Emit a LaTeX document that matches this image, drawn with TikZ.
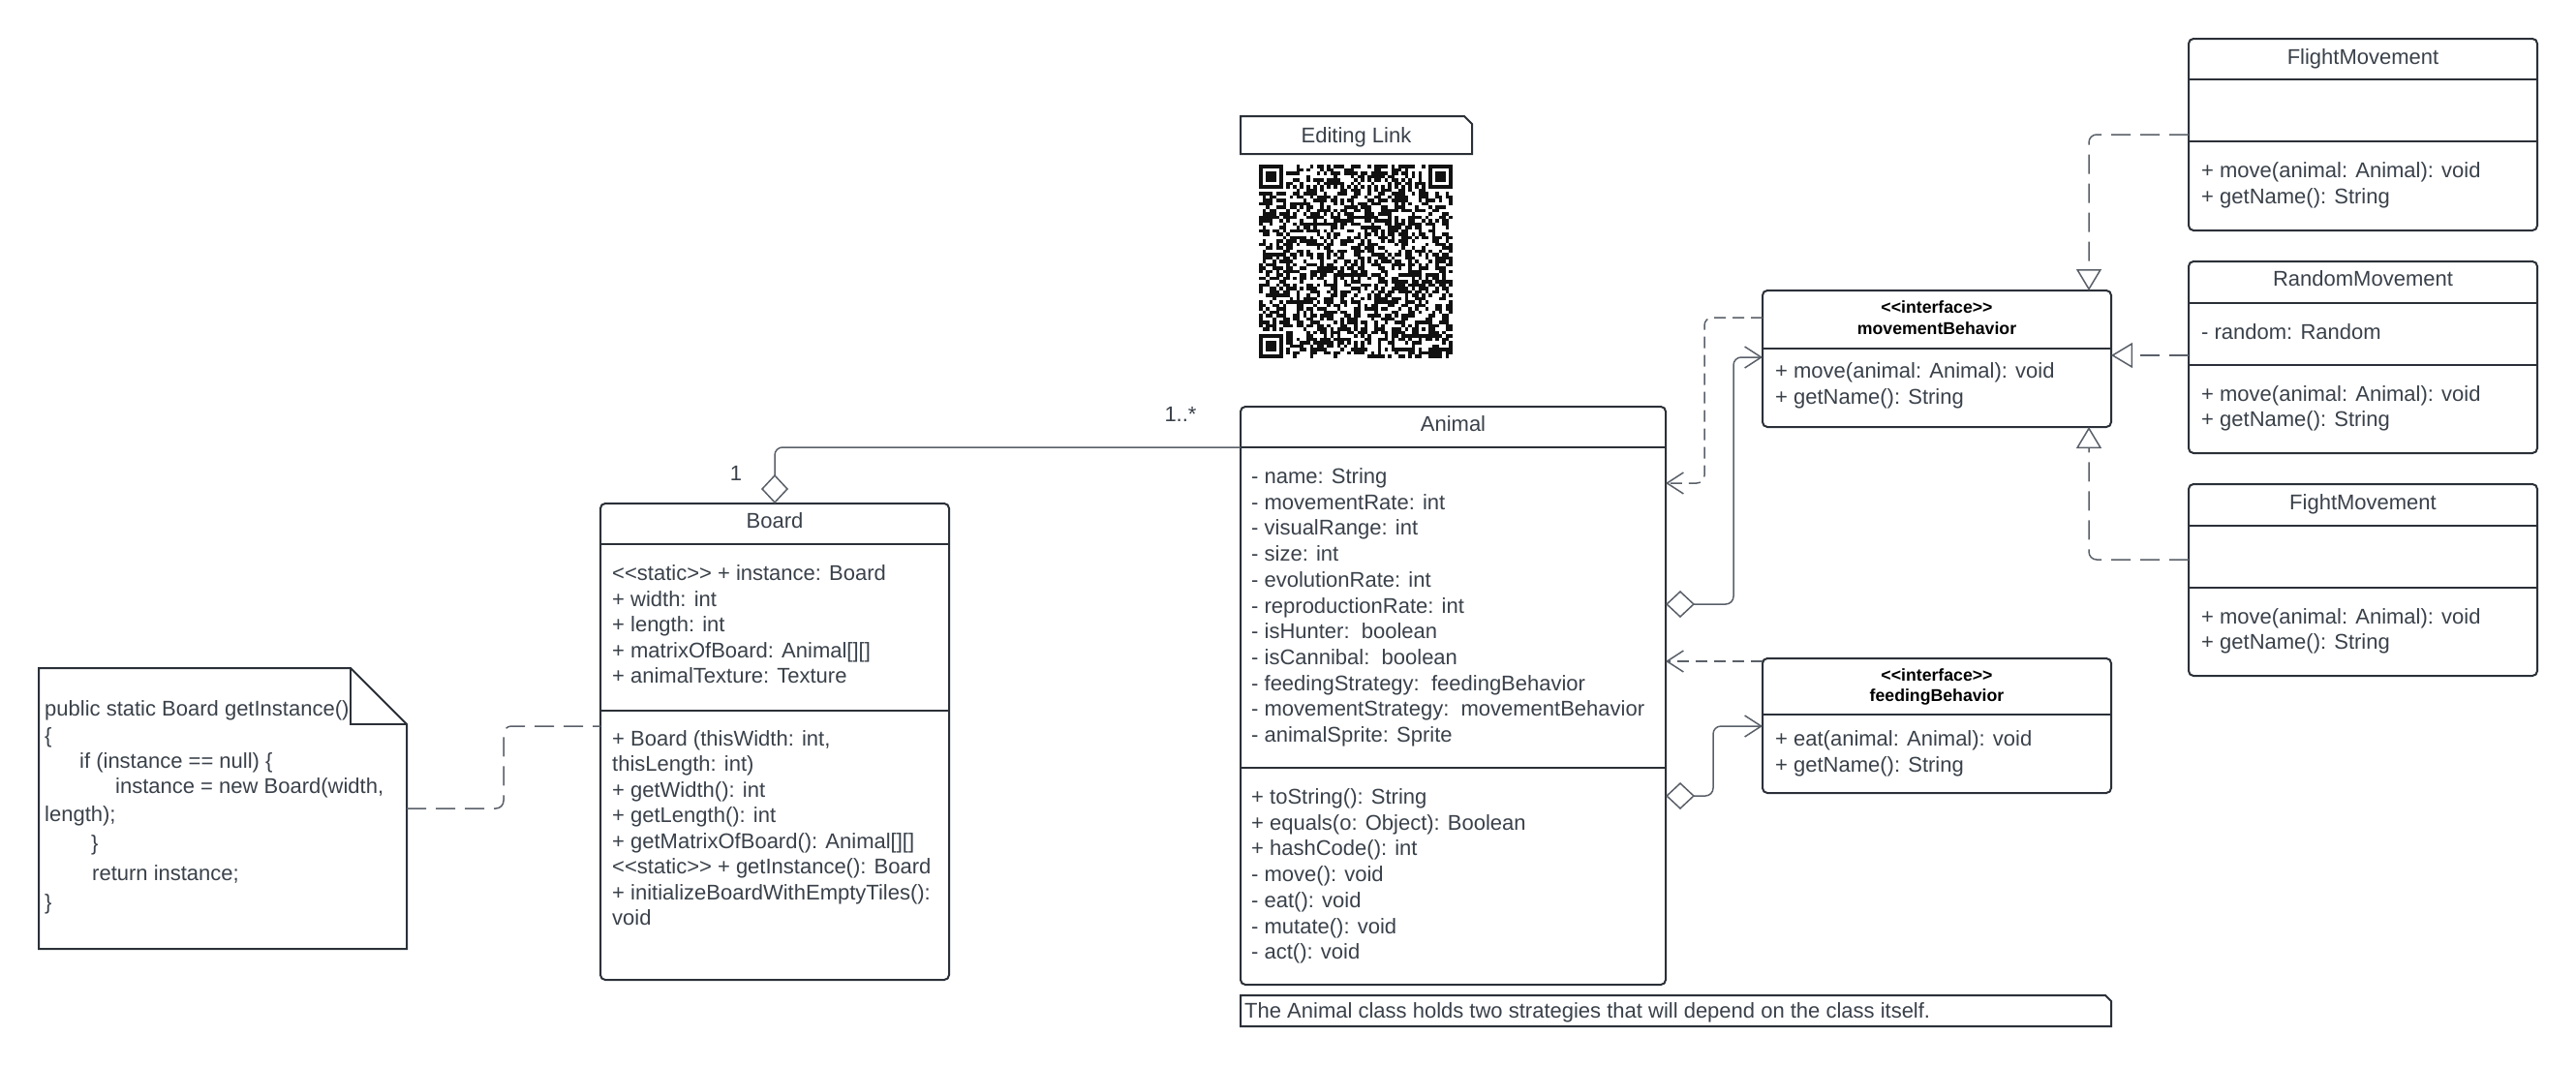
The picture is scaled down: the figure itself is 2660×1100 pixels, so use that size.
\documentclass[tikz,border=0pt]{standalone}
\usepackage{fontspec}
\setmainfont{Liberation Sans}
\usetikzlibrary{arrows.meta,calc}

\definecolor{boxc}{HTML}{2B3038}
\definecolor{txtc}{HTML}{3A414A}
\definecolor{linec}{HTML}{5A6069}
\definecolor{qrc}{HTML}{111111}

% stereotype brackets, kept apart so they stay two characters
\newcommand\stereo[1]{<\kern0pt<#1>\kern0pt>}

% one text line per entry, stacked downwards
\newcommand\classlines[5]{%
  \foreach \entry [count=\k] in {#5}{%
    \node[txt] (#1-\k) at (#2,{#3+#4*(\k-1)}) {\entry};}}

% compartment separator inside a class box
\newcommand\divider[2]{%
  \draw[divline] ($(#1.north west)+(0,#2)$) -- ($(#1.north east)+(0,#2)$);}

\begin{document}
\begin{tikzpicture}[x=1pt,y=-1pt,
  classbox/.style={draw=boxc, line width=2pt, rounded corners=5pt, fill=white,
    anchor=north west, inner sep=0pt, outer sep=0pt},
  notebox/.style={anchor=north west, inner sep=0pt, outer sep=0pt},
  noteline/.style={draw=boxc, line width=2pt, line join=miter},
  divline/.style={draw=boxc, line width=2pt},
  txt/.style={anchor=base west, inner sep=0pt, text=txtc,
    font=\fontsize{22}{26}\selectfont, yshift=-7.5pt},
  codetxt/.style={anchor=base west, inner sep=0pt, text=txtc,
    font=\fontsize{22}{26}\selectfont},
  ttl/.style={anchor=base, inner sep=0pt, text=txtc,
    font=\fontsize{22}{26}\selectfont, yshift=-7.5pt},
  ifc/.style={anchor=base, inner sep=0pt, text=black,
    font=\fontsize{17.7}{21}\selectfont\bfseries, yshift=-6.5pt},
  lbl/.style={anchor=base, inner sep=0pt, text=txtc,
    font=\fontsize{22}{26}\selectfont, yshift=-8pt},
  conn/.style={draw=linec, line width=1.5pt, rounded corners=8pt},
  dep/.style={conn, dash pattern=on 12pt off 7pt,
    -{Straight Barb[length=17pt,width=22pt]}},
  real/.style={conn, dash pattern=on 20pt off 10pt,
    -{Triangle[open,length=22pt,width=26pt]}},
  agg/.style={conn, {Diamond[open,length=30pt,width=28pt]}-{Straight Barb[length=17pt,width=22pt]}},
  notelink/.style={conn, dash pattern=on 20pt off 10pt},
]
\fill[white] (0,0) rectangle (2660,1100);
\useasboundingbox (0,0) rectangle (2660,1100);

% ---------- class boxes ----------
\node[classbox, minimum width=360pt, minimum height=492pt] (board)  at (620,520) {};
\node[classbox, minimum width=439pt, minimum height=597pt] (animal) at (1281,420) {};
\node[classbox, minimum width=360pt, minimum height=141pt] (mb)     at (1820,300) {};
\node[classbox, minimum width=360pt, minimum height=139pt] (fb)     at (1820,680) {};
\node[classbox, minimum width=360pt, minimum height=198pt] (fm)     at (2260,40) {};
\node[classbox, minimum width=360pt, minimum height=198pt] (rm)     at (2260,270) {};
\node[classbox, minimum width=360pt, minimum height=198pt] (fim)    at (2260,500) {};

\divider{board}{42}  \divider{board}{214}
\divider{animal}{42} \divider{animal}{373}
\divider{mb}{60}
\divider{fb}{58}
\divider{fm}{42}  \divider{fm}{106}
\divider{rm}{43}  \divider{rm}{107}
\divider{fim}{43} \divider{fim}{107}

% ---------- Board ----------
\node[ttl] (board-t) at (800,538) {Board};
\classlines{board-a}{632}{592}{26.6}{\stereo{static} + instance: Board, + width: int,
  + length: int, + matrixOfBoard: Animal[][], + animalTexture: Texture}
\classlines{board-m}{632}{763}{26.45}{{+ Board (thisWidth: int,}, thisLength: int),
  + getWidth(): int, + getLength(): int, + getMatrixOfBoard(): Animal[][],
  \stereo{static} + getInstance(): Board, + initializeBoardWithEmptyTiles():, void}

% ---------- Animal ----------
\node[ttl] (animal-t) at (1500.5,438) {Animal};
\classlines{animal-a}{1292}{492}{26.7}{- name: String, - movementRate: int,
  - visualRange: int, - size: int, - evolutionRate: int, - reproductionRate: int,
  - isHunter:\ \ boolean, - isCannibal:\ \ boolean,
  - feedingStrategy:\ \ feedingBehavior, - movementStrategy:\ \ movementBehavior,
  - animalSprite: Sprite}
\classlines{animal-m}{1292}{823}{26.7}{+ toString(): String,
  + equals(o: Object): Boolean, + hashCode(): int, - move(): void,
  - eat(): void, - mutate(): void, - act(): void}

% ---------- interfaces ----------
\node[ifc] (mb-s) at (2000,317) {\stereo{interface}};
\node[ifc] (mb-t) at (2000,339) {movementBehavior};
\classlines{mb-m}{1833}{383}{26.5}{+ move(animal: Animal): void, + getName(): String}

\node[ifc] (fb-s) at (2000,697) {\stereo{interface}};
\node[ifc] (fb-t) at (2000,718) {feedingBehavior};
\classlines{fb-m}{1833}{763}{27}{+ eat(animal: Animal): void, + getName(): String}

% ---------- movement strategies ----------
\node[ttl] (fm-t) at (2440,59) {FlightMovement};
\classlines{fm-m}{2273}{176}{26.5}{+ move(animal: Animal): void, + getName(): String}

\node[ttl] (rm-t) at (2440,288) {RandomMovement};
\classlines{rm-a}{2273}{343}{26}{- random: Random}
\classlines{rm-m}{2273}{407}{26}{+ move(animal: Animal): void, + getName(): String}

\node[ttl] (fim-t) at (2440,519) {FightMovement};
\classlines{fim-m}{2273}{637}{26}{+ move(animal: Animal): void, + getName(): String}

% ---------- code note ----------
\node[notebox, minimum width=380pt, minimum height=290pt] (codenote) at (40,690) {};
\draw[noteline] (codenote.north west) -- ($(codenote.north east)+(-58,0)$)
  -- ($(codenote.north east)+(0,58)$) -- (codenote.south east)
  -- (codenote.south west) -- cycle;
\draw[noteline] ($(codenote.north east)+(-58,0)$) -- ++(0,58) -- ++(58,0);
\node[codetxt] (code-1) at (46,739) {public static Board getInstance()};
\node[codetxt] (code-2) at (46,767) {\{};
\node[codetxt] (code-3) at (82,793) {if (instance == null) \{};
\node[codetxt] (code-4) at (119,819) {instance = new Board(width,};
\node[codetxt] (code-5) at (46,848) {length);};
\node[codetxt] (code-6) at (94,878) {\}};
\node[codetxt] (code-7) at (95,909) {return instance;};
\node[codetxt] (code-8) at (46,939) {\}};

% ---------- editing link note with code ----------
\node[notebox, minimum width=239pt, minimum height=39pt] (linknote) at (1281,120) {};
\draw[noteline] (linknote.north west) -- ($(linknote.north east)+(-8,0)$)
  -- ($(linknote.north east)+(0,8)$) -- (linknote.south east)
  -- (linknote.south west) -- cycle;
\node[ttl] (linktext) at (1400.5,140) {Editing Link};

\begin{scope}[shift={(1300,170)}]
  \pgfmathsetseed{2718}
  \foreach \i in {0,...,56}{
    \foreach \j in {0,...,56}{
      \pgfmathtruncatemacro\qrbit{rnd<0.5}
      \pgfmathtruncatemacro\qrskip{((\i<8)&&(\j<8)) || ((\i>48)&&(\j<8)) || ((\i<8)&&(\j>48)) || (\i==6) || (\j==6)}
      \ifnum\qrskip=0 \ifnum\qrbit=1
        \fill[qrc] ({\i*3.5},{\j*3.5}) rectangle ++(3.6,3.6);
      \fi\fi
    }}
  \foreach \k in {8,10,...,48}{
    \fill[qrc] ({\k*3.5},21) rectangle ++(3.6,3.6);
    \fill[qrc] (21,{\k*3.5}) rectangle ++(3.6,3.6);
  }
  \foreach \fx/\fy in {0/0,50/0,0/50}{
    \fill[qrc]   ({\fx*3.5},{\fy*3.5}) rectangle ++(24.5,24.5);
    \fill[white] ({\fx*3.5+3.5},{\fy*3.5+3.5}) rectangle ++(17.5,17.5);
    \fill[qrc]   ({\fx*3.5+7},{\fy*3.5+7}) rectangle ++(10.5,10.5);
  }
  \fill[qrc]   (161,161) rectangle ++(17.5,17.5);
  \fill[white] (164.5,164.5) rectangle ++(10.5,10.5);
  \fill[qrc]   (168,168) rectangle ++(3.5,3.5);
\end{scope}

% ---------- comment under Animal ----------
\node[notebox, minimum width=899pt, minimum height=32pt] (animalnote) at (1281,1028) {};
\draw[noteline] (animalnote.north west) -- ($(animalnote.north east)+(-6,0)$)
  -- ($(animalnote.north east)+(0,6)$) -- (animalnote.south east)
  -- (animalnote.south west) -- cycle;
\node[txt] (animalnote-t) at (1285,1044)
  {The Animal class holds two strategies that will depend on the class itself.};

% ---------- connectors ----------
\draw[conn, {Diamond[open,length=30pt,width=28pt]}-]
  (board.north) |- ($(animal.north west)+(0,42)$);
\node[lbl] (mult-board) at ($(board.north)+(-40,-32)$) {1};
\node[lbl] (mult-animal) at ($(animal.north west)+(-62,7)$) {1..*};

\draw[notelink] (codenote.east) -- ++(100,0) |- ($(board.north west)+(0,230)$);

\draw[dep] ($(mb.north west)+(0,28)$) -- ++(-60,0) |- ($(animal.north east)+(0,79)$);
\draw[agg] ($(animal.north east)+(0,204)$) -- ++(70,0) |- ($(mb.north west)+(0,69)$);
\draw[dep] ($(fb.north west)+(0,3)$) -- ($(animal.north east)+(0,263)$);
\draw[agg] ($(animal.north east)+(0,402)$) -- ++(49,0) |- ($(fb.north west)+(0,70)$);

\draw[real] ($(fm.north west)+(0,99)$) -| ($(mb.north east)+(-23,0)$);
\draw[real] ($(rm.north west)+(0,97)$) -- ($(mb.north east)+(0,67)$);
\draw[real] ($(fim.north west)+(0,78)$) -| ($(mb.south east)+(-23,0)$);
\end{tikzpicture}
\end{document}
